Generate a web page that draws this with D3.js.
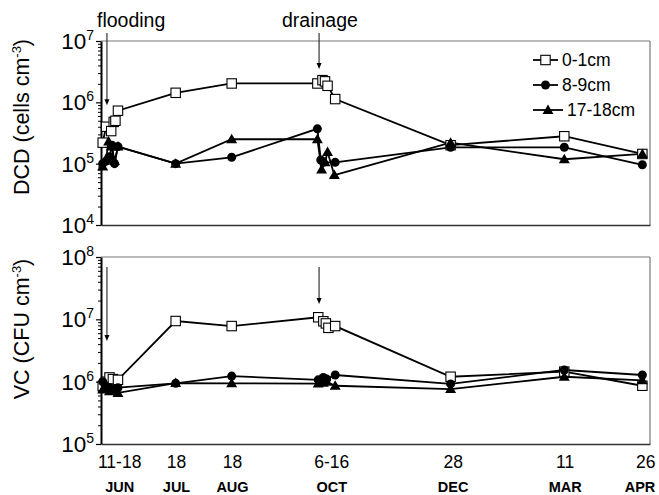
<!DOCTYPE html>
<html><head><meta charset="utf-8">
<script src="https://cdn.jsdelivr.net/npm/d3@7"></script>
<style>
body{margin:0;background:#fff;}
svg{display:block;font-family:"Liberation Sans",Arial,Helvetica,sans-serif;}
</style></head>
<body><svg id="c" width="659" height="495"></svg>
<script>
// ---- data (x = sampling day since start of study) ----
const seriesNames = ["0-1cm", "8-9cm", "17-18cm"];
const tickDays = [11, 44.5, 77.5, 136, 207.5, 273.5, 321];
const tickDayLabels = ["11-18", "18", "18", "6-16", "28", "11", "26"];
const tickMonthLabels = ["JUN", "JUL", "AUG", "OCT", "DEC", "MAR", "APR"];

// DCD panel
const dcdSurfaceDay = [1, 3, 6, 7.5, 8.5, 10, 44, 77, 127.5, 130.5, 132, 133.5, 138, 206, 273, 319];
const dcdSurface    = [2.2e5, 4.0e5, 3.4e5, 4.8e5, 5.0e5, 7.3e5, 1.43e6, 2.03e6, 2.03e6, 2.3e6, 2.2e6, 1.86e6, 1.13e6, 2.0e5, 2.8e5, 1.44e5];
const dcdMidDay = [1, 3, 5, 6.5, 8, 10, 44, 77, 127.5, 129.5, 131, 138, 206, 273, 319];
const dcdMid    = [1.0e5, 1.1e5, 1.3e5, 2.0e5, 1.0e5, 1.9e5, 1.0e5, 1.27e5, 3.7e5, 1.15e5, 1.05e5, 1.05e5, 1.85e5, 1.85e5, 0.96e5];
const dcdDeepDay = [1, 3, 4.5, 6, 8, 10, 44, 77, 127.5, 130, 132, 133.5, 137.5, 206, 273, 319];
const dcdDeep    = [0.9e5, 1.2e5, 2.3e5, 1.9e5, 1.1e5, 1.9e5, 1.0e5, 2.5e5, 2.5e5, 0.8e5, 1.05e5, 1.55e5, 0.65e5, 2.2e5, 1.18e5, 1.44e5];

// VC panel
const vcSurfaceDay = [1, 3, 5, 7, 10, 44, 77, 128, 131, 132.5, 134, 138, 206, 273, 319];
const vcSurface    = [8.5e5, 1.0e6, 1.17e6, 1.1e6, 1.07e6, 9.4e6, 7.8e6, 1.08e7, 9.3e6, 8.6e6, 7.3e6, 7.8e6, 1.2e6, 1.45e6, 8.6e5];
const vcMidDay = [1, 3, 5, 7, 10, 44, 77, 128, 131, 133, 138, 206, 273, 319];
const vcMid    = [1.0e6, 8.3e5, 8.0e5, 7.5e5, 8.0e5, 9.4e5, 1.23e6, 1.07e6, 1.17e6, 1.1e6, 1.28e6, 9.2e5, 1.54e6, 1.28e6];
const vcDeepDay = [1, 3, 5, 7, 10, 44, 77, 128, 131, 133, 138, 206, 273, 319];
const vcDeep    = [7.5e5, 8.0e5, 7.0e5, 7.5e5, 6.6e5, 9.5e5, 9.4e5, 9.3e5, 9.6e5, 1.0e6, 8.6e5, 7.6e5, 1.2e6, 1.05e6];

// event annotations
const eventNames = ["flooding", "drainage"];
const eventDays = [3.5, 128.5];
const eventTipsDCD = [9e5, 3.5e6];
const eventTipsVC = [4.5e6, 1.76e7];

// ---- drawing ----
const svg = d3.select("#c");
const x = d3.scaleLinear().domain([0, 323.5]).range([101, 650]);

const panels = [
  {title: "DCD", unit: "cells cm", dom: [1e4, 1e7], rng: [225, 41], exps: [4,5,6,7],
   series: [[dcdSurfaceDay, dcdSurface], [dcdMidDay, dcdMid], [dcdDeepDay, dcdDeep]],
   tips: eventTipsDCD, arrowTop: 33, titleY: 117},
  {title: "VC", unit: "CFU cm", dom: [1e5, 1e8], rng: [444, 257], exps: [5,6,7,8],
   series: [[vcSurfaceDay, vcSurface], [vcMidDay, vcMid], [vcDeepDay, vcDeep]],
   tips: eventTipsVC, arrowTop: 267, titleY: 329}
];

function marker(g, kind, cx, cy) {
  if (kind === 0) {
    g.append("rect").attr("x", cx - 4.7).attr("y", cy - 4.7).attr("width", 9.4).attr("height", 9.4)
      .attr("fill", "#fff").attr("stroke", "#000").attr("stroke-width", 1.1);
  } else if (kind === 1) {
    g.append("circle").attr("cx", cx).attr("cy", cy).attr("r", 4.5).attr("fill", "#000");
  } else {
    g.append("path").attr("d", d3.symbol().type(d3.symbolTriangle).size(52)())
      .attr("transform", `translate(${cx},${cy + 0.8})`).attr("fill", "#000");
  }
}

panels.forEach(p => {
  const y = d3.scaleLog().domain(p.dom).range(p.rng);
  const g = svg.append("g");
  g.append("line").attr("x1", x.range()[0]).attr("x2", 650).attr("y1", y(p.dom[1])).attr("y2", y(p.dom[1]))
    .attr("stroke", "#777").attr("stroke-width", 1.2);
  g.append("line").attr("x1", 650).attr("x2", 650).attr("y1", y(p.dom[1])).attr("y2", y(p.dom[0]))
    .attr("stroke", "#777").attr("stroke-width", 1.2);
  const xa = g.append("g").attr("transform", `translate(0,${y(p.dom[0])})`)
    .call(d3.axisBottom(x).tickValues([]).tickSizeOuter(0));
  xa.select(".domain").attr("stroke", "#333").attr("stroke-width", 1.5);
  const minor = y.ticks().filter(v => Math.abs(Math.log10(v) - Math.round(Math.log10(v))) > 1e-6);
  const ya = g.append("g").attr("transform", `translate(${x.range()[0]},0)`)
    .call(d3.axisLeft(y).tickValues(minor).tickSize(3).tickFormat("").tickSizeOuter(0));
  ya.select(".domain").attr("stroke", "#000").attr("stroke-width", 2);
  ya.selectAll(".tick line").attr("stroke-width", 1);
  const yb = g.append("g").attr("transform", `translate(${x.range()[0]},0)`)
    .call(d3.axisLeft(y).tickValues(p.exps.map(e => Math.pow(10, e))).tickSize(5).tickFormat("").tickSizeOuter(0));
  yb.select(".domain").remove();
  yb.selectAll(".tick line").attr("stroke-width", 1.2);
  p.exps.forEach(e => {
    const t = g.append("text").attr("x", 94).attr("y", y(Math.pow(10, e)) + 8)
      .attr("text-anchor", "end").attr("font-size", 22.5).attr("fill", "#000");
    t.append("tspan").text("10");
    t.append("tspan").attr("dy", -9).attr("font-size", 14).text(String(e));
  });
  const tt = g.append("text").attr("transform", `translate(29,${p.titleY}) rotate(-90)`)
    .attr("text-anchor", "middle").attr("font-size", 21.5).attr("fill", "#000");
  tt.append("tspan").text(p.title + " (" + p.unit);
  tt.append("tspan").attr("dy", -8).attr("font-size", 13).text("-3");
  tt.append("tspan").attr("dy", 8).text(")");
  const line = d3.line().x(d => x(d[0])).y(d => y(d[1]));
  p.series.forEach(s => {
    const pts = s[0].map((d, i) => [d, s[1][i]]);
    g.append("path").attr("d", line(pts)).attr("fill", "none").attr("stroke", "#000").attr("stroke-width", 1.8);
  });
  [0, 2, 1].forEach(k => {
    const s = p.series[k];
    s[0].forEach((d, i) => marker(g, k, x(d), y(s[1][i])));
  });
  eventDays.forEach((d, i) => {
    const ax = x(d), ty = y(p.tips[i]);
    g.append("line").attr("x1", ax).attr("x2", ax).attr("y1", p.arrowTop).attr("y2", ty - 5)
      .attr("stroke", "#333").attr("stroke-width", 1.2);
    g.append("path").attr("d", `M${ax - 2.5},${ty - 6}L${ax + 2.5},${ty - 6}L${ax},${ty}Z`).attr("fill", "#000");
  });
});

svg.append("text").attr("x", 97).attr("y", 27).attr("font-size", 19.5).text(eventNames[0]);
svg.append("text").attr("x", 282).attr("y", 27).attr("font-size", 19.5).text(eventNames[1]);

tickDays.forEach((d, i) => {
  svg.append("text").attr("x", x(d)).attr("y", 468).attr("text-anchor", "middle")
    .attr("font-size", 17.5).text(tickDayLabels[i]);
  svg.append("text").attr("x", Math.min(x(d), 640)).attr("y", 492).attr("text-anchor", "middle")
    .attr("font-size", 14.5).attr("font-weight", "bold").text(tickMonthLabels[i]);
});

const lg = svg.append("g");
const legY = [60, 85, 110];
seriesNames.forEach((n, k) => {
  const x0 = 533, x1 = k === 2 ? 563 : 558;
  lg.append("line").attr("x1", x0).attr("x2", x1).attr("y1", legY[k]).attr("y2", legY[k])
    .attr("stroke", "#000").attr("stroke-width", 1.8);
  marker(lg, k, (x0 + x1) / 2, legY[k]);
  lg.append("text").attr("x", x1 + 4).attr("y", legY[k] + 6).attr("font-size", 17.5).text(n);
});
</script></body></html>
